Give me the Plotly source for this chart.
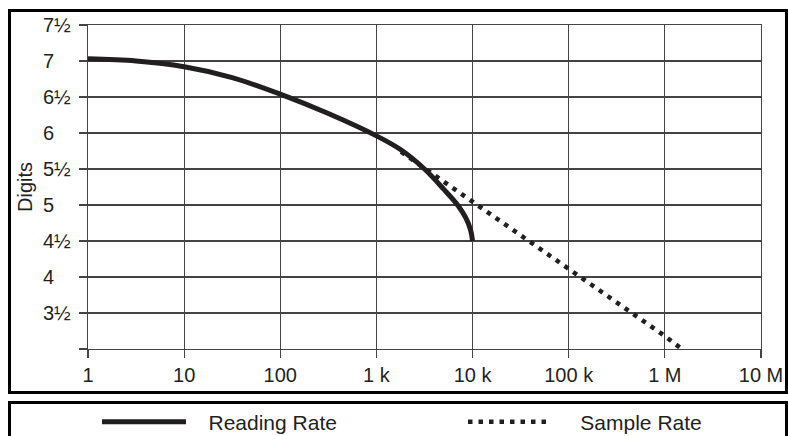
import plotly.graph_objects as go

# ---- data ----
reading_x = [1, 3.16, 10, 31.6, 100, 316, 1000, 1780, 3160, 5010, 7080, 8510, 9550, 10000]
reading_y = [7.03, 7.00, 6.92, 6.77, 6.54, 6.27, 5.96, 5.77, 5.50, 5.22, 4.99, 4.82, 4.65, 4.50]

sample_x = [1800, 10000, 100000, 1000000, 1500000]
sample_y = [5.74, 5.05, 4.12, 3.18, 3.0]

x_tickvals = [1, 10, 100, 1000, 10000, 100000, 1000000, 10000000]
x_ticktext = ["1", "10", "100", "1 k", "10 k", "100 k", "1 M", "10 M"]

y_tickvals = [3, 3.5, 4, 4.5, 5, 5.5, 6, 6.5, 7, 7.5]
y_ticktext = ["", "3½", "4", "4½", "5", "5½", "6", "6½", "7", "7½"]

series_names = ["Reading Rate", "Sample Rate"]

NB = "\u00a0"
y_ticktext_padded = [t if (t == "" or "½" in t) else t + NB * 3 for t in y_ticktext]

INK = "#231f20"
GRID = "#444444"
FONT = "Liberation Sans, Arial, Helvetica, sans-serif"

# page body margin is removed by post_script, so page pixels == figure pixels
W, H = 788, 436
PL, PR, PT, PB = 88, 761, 25, 349          # plot area in page pixels
L, R, T, B = PL, W - PR, PT, H - PB
pw, ph = W - L - R, H - T - B


def px(x):
    return (x - L) / pw


def py(y):
    return (H - B - y) / ph


fig = go.Figure()
fig.add_trace(go.Scatter(
    x=reading_x, y=reading_y, mode="lines", name=NB * 3 + series_names[0],
    line=dict(color=INK, width=5, shape="spline", smoothing=1.0),
    legend="legend",
))
fig.add_trace(go.Scatter(
    x=sample_x, y=sample_y, mode="lines", name=NB * 4 + series_names[1],
    line=dict(color=INK, width=4.5, dash="4.5px,6px"),
    legend="legend2",
))

shapes = [
    dict(type="rect", xref="paper", yref="paper",
         x0=px(9.5), x1=px(786.5), y0=py(392.5), y1=py(10.5),
         line=dict(color="black", width=3), fillcolor="rgba(0,0,0,0)", layer="above"),
    dict(type="rect", xref="paper", yref="paper",
         x0=px(9.5), x1=px(786.5), y0=py(460), y1=py(402.5),
         line=dict(color="black", width=3), fillcolor="rgba(0,0,0,0)", layer="above"),
]

legend_common = dict(
    orientation="h", xanchor="left", yanchor="middle",
    itemwidth=84, font=dict(size=21, color=INK, family=FONT),
    bgcolor="rgba(0,0,0,0)", borderwidth=0,
    itemclick=False, itemdoubleclick=False,
)

fig.update_layout(
    width=W, height=H,
    margin=dict(l=L, r=R, t=T, b=B, autoexpand=False),
    paper_bgcolor="white", plot_bgcolor="white",
    font=dict(family=FONT, size=20, color=INK),
    shapes=shapes,
    showlegend=True,
    legend=dict(x=px(97), y=py(422), **legend_common),
    legend2=dict(x=px(463), y=py(422), **legend_common),
    xaxis=dict(
        type="log", range=[0, 7], tickmode="array",
        tickvals=x_tickvals, ticktext=x_ticktext,
        showgrid=True, gridcolor=GRID, gridwidth=1.2,
        showline=True, linecolor=GRID, linewidth=1.2, mirror=True,
        ticks="outside", ticklen=8, tickcolor=GRID, tickwidth=1.2,
        zeroline=False, tickfont=dict(size=20, color=INK),
    ),
    yaxis=dict(
        range=[3, 7.5], tickmode="array",
        tickvals=y_tickvals, ticktext=y_ticktext_padded,
        showgrid=True, gridcolor=GRID, gridwidth=1.2,
        showline=True, linecolor=GRID, linewidth=1.2, mirror=True,
        ticks="outside", ticklen=8, tickcolor=GRID, tickwidth=1.2,
        ticklabelstandoff=4,
        zeroline=False, tickfont=dict(size=20, color=INK),
        title=dict(text="Digits", font=dict(size=20, color=INK), standoff=5),
    ),
)

fig.write_html(
    "out.html",
    config={"displayModeBar": False, "staticPlot": True},
    post_script="document.body.style.margin='0px';document.body.style.overflow='hidden';",
)
